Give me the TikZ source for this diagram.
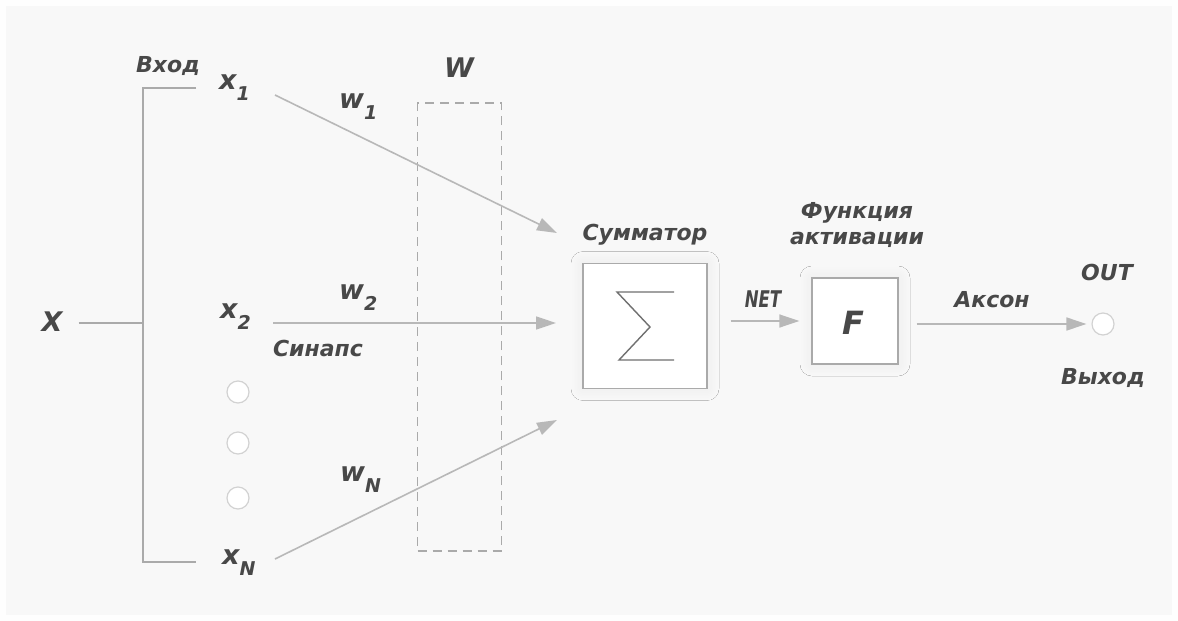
\documentclass[tikz,border=0pt]{standalone}
\usepackage{fontspec}
\setmainfont{DejaVu Sans}
\usetikzlibrary{arrows.meta,shadows.blur}
\definecolor{outerbg}{HTML}{FEFEFE}
\definecolor{innerbg}{HTML}{F8F8F8}
\definecolor{txt}{HTML}{484848}
\definecolor{ln}{HTML}{AAAAAA}
\definecolor{arr}{HTML}{B8B8B8}
\definecolor{sig}{HTML}{707070}
\definecolor{dotln}{HTML}{D2D2D2}
\newcommand{\mysub}[1]{\raisebox{-0.42em}{\fontsize{19}{19}\selectfont #1}}
\tikzset{
  lab/.style={text=txt, font=\fontsize{22}{24}\selectfont\bfseries\itshape, inner sep=0pt, anchor=base},
  var/.style={text=txt, font=\fontsize{27}{29}\selectfont\bfseries\itshape, inner sep=0pt, anchor=base west},
  conn/.style={draw=arr, line width=1.6pt, -{Triangle[length=20pt,width=13pt]}},
  brk/.style={draw=ln, line width=1.5pt},
  blockbox/.style={draw=ln, line width=1.3pt, fill=white, inner sep=0pt,
    blur shadow={shadow xshift=0pt, shadow yshift=0pt, shadow blur radius=12pt, shadow blur steps=16, shadow opacity=6}},
  dot/.style={circle, draw=dotln, line width=1.2pt, fill=white, minimum size=22pt, inner sep=0pt},
  wbox/.style={draw=ln, line width=1.3pt, dash pattern=on 9pt off 6pt}
}
\begin{document}
\begin{tikzpicture}[x=1pt, y=-1pt]
\useasboundingbox (0,0) rectangle (1178,621);
\fill[outerbg] (0,0) rectangle (1178,621);
\fill[innerbg] (6,6) rectangle (1172,615);

% input labels
\node[var, anchor=base] (X) at (52,331) {X};
\node[lab] (vhod) at (168,72) {Вход};
\node[var] (x1) at (219,89) {x\mysub{1}};
\node[var] (x2) at (220,318) {x\mysub{2}};
\node[var] (xN) at (222,564) {x\mysub{N}};
\node[dot] (d1) at (238,392) {};
\node[dot] (d2) at (238,443) {};
\node[dot] (d3) at (238,498) {};

% bracket
\coordinate (bmid) at (143,323);
\coordinate (btl) at (143,88);
\coordinate (btr) at (196,88);
\coordinate (bbl) at (143,562);
\coordinate (bbr) at (196,562);
\draw[brk, shorten <=16pt] (X.east |- bmid) -- (bmid);
\draw[brk] (btr) -- (btl) -- (bbl) -- (bbr);

% weights
\node[var, anchor=base] (W) at (459,77) {W};
\node[wbox, minimum width=84pt, minimum height=448pt, inner sep=0pt] (wb) at (459.5,327) {};
\node[var] (w1) at (339,108) {w\mysub{1}};
\node[var] (w2) at (339,299) {w\mysub{2}};
\node[var] (wN) at (340,481) {w\mysub{N}};
\node[lab] (sin) at (318,356) {Синапс};

% synapse connectors
\coordinate (x1o) at (275,95);
\coordinate (x2o) at (273,323);
\coordinate (xNo) at (275,559);
\coordinate (in1) at (557,233);
\coordinate (in2) at (556,323);
\coordinate (inN) at (557,420);
\draw[conn] (x1o) -- (in1);
\draw[conn] (x2o) -- (in2);
\draw[conn] (xNo) -- (inN);

% summator
\node[lab] (summ) at (645,240) {Сумматор};
\node[blockbox, minimum width=124pt, minimum height=125pt] (sum) at (645,326) {};
\draw[sig, line width=1.4pt, line join=miter]
  (674,292) -- (617,292) -- (650,327) -- (619,360) -- (674,360);

% activation
\node[lab] (fun1) at (857,218) {Функция};
\node[lab] (fun2) at (857,244) {активации};
\node[blockbox, minimum width=86pt, minimum height=86pt] (F) at (855,321) {};
\node[text=txt, font=\fontsize{32}{34}\selectfont\bfseries\itshape, inner sep=0pt, anchor=base] (Flab) at (853,334) {F};
\node[text=txt, font=\fontsize{23}{25}\selectfont\bfseries\itshape, inner sep=0pt, anchor=base] (net) at (763,307) {\scalebox{0.72}[1]{NET}};
\draw[conn, shorten <=23pt, shorten >=12pt] (sum.east |- F.west) -- (F.west);

% output
\node[lab] (akson) at (992,307) {Аксон};
\node[lab] (outl) at (1107,280) {OUT};
\node[dot] (out) at (1103,324) {};
\node[lab] (vyh) at (1103,384) {Выход};
\draw[conn, shorten <=18pt, shorten >=5pt] (F.east |- out) -- (out);
\end{tikzpicture}
\end{document}
